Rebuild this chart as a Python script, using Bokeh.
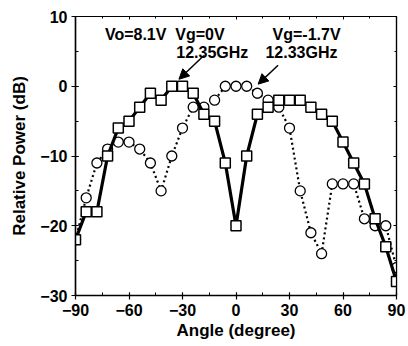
from bokeh.plotting import figure
from bokeh.models import (Range1d, LinearAxis, FixedTicker, Label, Arrow, NormalHead)
from bokeh.embed import file_html
from bokeh.resources import INLINE

# Data
angles = [-90, -84, -78, -72, -66, -60, -54, -48, -42, -36, -30, -24, -18, -12, -6,
          0, 6, 12, 18, 24, 30, 36, 42, 48, 54, 60, 66, 72, 78, 84, 90]
vg0_power = [-22, -18, -18, -10, -6, -5, -3, -1, -2, 0, 0, -1, -4, -5, -11,
             -20, -10, -4, -3, -2, -2, -2, -3, -4, -5, -8, -11, -14, -19, -23, -28]
vgm17_power = [-22, -16, -11, -9, -8, -8, -9, -11, -15, -10, -6, -3, -3, -2, 0,
               0, 0, -1, -2, -3, -6, -15, -21, -24, -14, -14, -14, -19, -20, -20, -26]

x_ticks = [-90, -60, -30, 0, 30, 60, 90]
y_ticks = [-30, -20, -10, 0, 10]

labels_text = ["Vo=8.1V\u00a0\u00a0Vg=0V", "12.35GHz", "Vg=-1.7V", "12.33GHz"]
labels_x = [-73.5, -33.5, 20.5, 16.5]
labels_y = [6.2, 3.6, 6.2, 3.6]
arrows_start = [(-18, 4.4), (23.6, 3.0)]
arrows_end = [(-32, 1.0), (12.4, 0.3)]

FONT = "Liberation Sans"

p = figure(width=408, height=346, output_backend="svg", toolbar_location=None,
           x_range=Range1d(-90, 90), y_range=Range1d(-30, 10),
           min_border_left=75, min_border_right=12, min_border_top=16, min_border_bottom=51,
           x_axis_label="Angle (degree)", y_axis_label="Relative Power (dB)")
p.grid.visible = False
p.outline_line_color = "black"
p.outline_line_width = 1.2
p.background_fill_color = "white"
p.border_fill_color = "white"

for ax in (p.xaxis[0], p.yaxis[0]):
    ax.major_label_text_font = FONT
    ax.major_label_text_font_style = "bold"
    ax.major_label_text_font_size = "16px"
    ax.major_label_text_color = "black"
    ax.axis_label_text_font = FONT
    ax.axis_label_text_font_style = "bold"
    ax.axis_label_text_font_size = "17px"
    ax.axis_label_text_color = "black"
    ax.axis_line_width = 1.5
    ax.major_tick_line_width = 1.2
    ax.minor_tick_line_width = 1
    ax.major_tick_in = 3
    ax.major_tick_out = 4
    ax.minor_tick_in = 3
    ax.minor_tick_out = 0

p.xaxis[0].ticker = FixedTicker(ticks=x_ticks, minor_ticks=list(range(-90, 91, 15)))
p.yaxis[0].ticker = FixedTicker(ticks=y_ticks, minor_ticks=list(range(-30, 11, 5)))
p.xaxis[0].major_label_standoff = 4
p.xaxis[0].axis_label_standoff = 2
p.yaxis[0].major_label_standoff = 4
p.yaxis[0].axis_label_standoff = 8

top = LinearAxis(ticker=FixedTicker(ticks=x_ticks, minor_ticks=list(range(-90, 91, 15))),
                 major_label_text_color=None, major_tick_in=3, major_tick_out=0,
                 minor_tick_in=2, minor_tick_out=0, axis_line_width=1.2)
right = LinearAxis(ticker=FixedTicker(ticks=y_ticks, minor_ticks=list(range(-30, 11, 5))),
                   major_label_text_color=None, major_tick_in=3, major_tick_out=0,
                   minor_tick_in=2, minor_tick_out=0, axis_line_width=1.2)
p.add_layout(top, "above")
p.add_layout(right, "right")
p.min_border_top = 16
p.min_border_right = 12

# dotted series
p.line(angles, vgm17_power, line_color="black", line_width=2.2, line_dash="2 3")
p.scatter(angles, vgm17_power, marker="circle", size=10, fill_color="white",
          line_color="black", line_width=1.3)
# solid series
p.line(angles, vg0_power, line_color="black", line_width=3.2)
p.scatter(angles, vg0_power, marker="square", size=10, fill_color="white",
          line_color="black", line_width=1.5)

for t, x, y in zip(labels_text, labels_x, labels_y):
    p.add_layout(Label(x=x, y=y, text=t, text_font=FONT, text_font_style="bold",
                       text_font_size="16px", text_color="black"))

for (xs, ys), (xe, ye) in zip(arrows_start, arrows_end):
    p.add_layout(Arrow(x_start=xs, y_start=ys, x_end=xe, y_end=ye, line_width=1.5,
                       line_color="black",
                       end=NormalHead(size=10, fill_color="black", line_color="black")))

open("out.html", "w").write(file_html(p, INLINE))
